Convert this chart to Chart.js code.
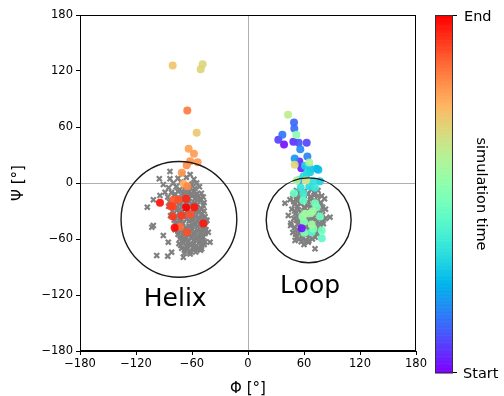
<!DOCTYPE html>
<html><head><meta charset="utf-8">
<script src="https://cdn.jsdelivr.net/npm/chart.js@4/dist/chart.umd.min.js"></script>
<style>html,body{margin:0;padding:0;background:#fff}canvas{display:block}</style>
</head><body>
<canvas id="c" width="504" height="396"></canvas>
<script>
// ---------- data ----------
const xTicks = [-180, -120, -60, 0, 60, 120, 180];
const yTicks = [-180, -120, -60, 0, 60, 120, 180];
const xLabel = 'Φ [°]';
const yLabel = 'Ψ [°]';

// gray crosses (reference conformations)
const grayPhi = [
 // helix outliers
 -97.8,-86,-69.3,-107.9,-101.4,-83.6,-83.6,-95,-90.7,-55,-51.4,-101.4,-103,-40.7,-42.5,-90.7,-85.4,-81.8,-62.1,-49.6,-88.9,-94.3,
 // helix core
 -70,-62, -75,-66,-58, -80,-72,-60,-55, -85,-77,-68,-62,-52, -82,-75,-70,-64,-58,-50,
 -86,-79,-72,-66,-60,-54,-48, -84,-77,-69,-63,-57,-51, -85,-76,-70,-62,-55,-48,
 -81,-76,-71,-65,-59,-53,-47, -83,-76,-68,-62,-56,-50, -79,-73,-66,-60,-54,-48,-44,
 -77,-70,-63,-57,-51,-46, -78,-72,-66,-60,-54,-49,-45, -75,-69,-63,-57,-51,-46,
 -73,-67,-61,-55,-49, -74,-69,-63,-58,-52,-47, -71,-65,-59,-54, -68,-62,-56,
 -73,-65,-57, -78,-67,-61,-55, -75,-69,-63,-57,-51, -80,-73,-66,-60,-54,-47,
 -79,-73,-66,-58,-50, -74,-68,-62,-56,-49, -79,-72,-65,-59,-52,-46, -76,-70,-63,-57,-51,-45,
 -74,-67,-60,-54,-48, -75,-69,-63,-57,-51,-46, -72,-66,-60,-54,-48, -70,-64,-58,-52,-46,
 -72,-66,-61,-55,-50, -68,-62,-57,-51,
 // loop
 39.6,43.2,87.9,45.7,50.4,71.8,64.6,80.7,
 52,60,68,75, 48,56,64,71,79, 45,53,60,67,74,82, 50,57,64,70,77,
 47,54,61,68,75,83, 51,58,65,72,80, 49,56,62,69,76,83, 46,53,60,66,73,80,
 50,57,63,70,77, 48,55,62,68,74, 52,59,66,72, 57,65,
 56,64,71, 52,60,67,75, 49,56,64,71,78, 53,60,67,73,80, 50,57,64,71,78,
 54,61,68,75, 52,59,66,72,79, 56,63,70,77, 53,60,67,74, 51,58,65,71, 55,62,69, 60
];
const grayPsi = [
 -77.7,-78.4,-79.5,-25.9,-18,12.3,4.5,4.5,-1.6,-11.6,-17,-45.5,-47.3,-63.4,-52.7,-56.3,-63.4,-74.1,-74.1,-70.5,-9.9,-13.4,
 10,9, 5,6,4, 0,1,-1,0, -5,-4,-6,-5,-4, -10,-9,-11,-10,-9,-11,
 -15,-14,-16,-15,-14,-16,-15, -20,-21,-19,-20,-21,-19, -25,-26,-24,-25,-26,-24,
 -30,-29,-31,-30,-29,-31,-30, -35,-36,-34,-35,-36,-34, -40,-41,-39,-40,-41,-39,-40,
 -45,-44,-46,-45,-44,-46, -50,-51,-49,-50,-51,-49,-50, -55,-56,-54,-55,-56,-54,
 -60,-61,-59,-60,-61, -65,-64,-66,-65,-64,-66, -70,-71,-69,-70, -75,-76,-74,
 -7,-8,-6, -12,-13,-11,-12, -17,-18,-16,-17,-18, -22,-23,-21,-22,-23,-21,
 -27,-28,-26,-27,-28, -32,-33,-31,-32,-33, -37,-38,-36,-37,-38,-36, -42,-43,-41,-42,-43,-41,
 -47,-48,-46,-47,-48, -52,-53,-51,-52,-53,-51, -57,-58,-56,-57,-58, -62,-63,-61,-62,-63,
 -67,-68,-66,-67,-68, -72,-73,-71,-72,
 -21.6,-34.8,-36.6,-45.5,-61.6,-70.5,-63.4,-43.7,
 -8,-9,-7,-8, -13,-14,-12,-13,-14, -18,-19,-17,-18,-19,-17, -23,-22,-24,-23,-22,
 -28,-29,-27,-28,-29,-28, -33,-34,-32,-33,-34, -38,-39,-37,-38,-39,-38, -43,-44,-42,-43,-44,-42,
 -48,-49,-47,-48,-49, -53,-54,-52,-53,-54, -58,-59,-57,-58, -63,-62,
 -10,-11,-10, -15,-16,-15,-14, -20,-21,-20,-19,-21, -25,-26,-25,-24,-26, -30,-31,-30,-29,-31,
 -35,-36,-35,-34, -40,-41,-40,-39,-41, -45,-46,-45,-44, -50,-51,-50,-49, -55,-56,-55,-54, -60,-61,-60, -66
];

// trajectory frames coloured by simulation time (0 = start, 1 = end)
const trajPhi = [
 38.6,57.5,57.1,55,48.6,32.5,62.9,54.3,49.3,49.6,36.8,63.6,56,50,53.9,73.6,75.4,66.4,61,66.4,77,62.9,59.3,65.7,70,56.5,71.8,59.3,
 68.2,79,49.3,59.3,77.1,79,73.6,71.8,60.3,70,60,51.8,58.2,67.2,68.2,61.1,69.3,
 65.7,52.2,42.9,62,50,-48.6,-50.7,-55,-80.7,-69,-63.6,-57.9,-62,-54,-71,-65.7,-65,-65,-72.9,
 -80,-61.8,-74.7,-65.4,-80.7,-82.8,-80.7,-71,-66.4,-57.5,-47.9,-94.3,-78.6,-66.4
];
const trajPsi = [
 41.3,-48.5,15.9,23,44.1,46.3,43,43,64.8,58.4,51.6,28.4,36.2,26.3,2.7,15.2,14.1,15.5,18.4,11.6,2,9.9,7,-3.7,2,-5,-5,-11.6,
 -52.7,-59.1,-10.9,-18.8,-35.9,-50.9,-25.9,-21.6,-53.4,-49.1,-41.5,51.6,-35.9,-32.3,-44.5,-33,-30.2,
 22,2.7,73.1,2.7,19.5,127.3,122,53.8,125.9,-0.9,36.6,31.3,23.4,22.3,10.9,19,-3.4,77.7,-47,
 -18,-33.8,-18,-52.7,-25.2,-24.8,-35.9,-35.2,-17,-25.9,-43.4,-21.2,-48,-26.3
];
const trajTime = [
 0.02,0.03,0.04,0.05,0.06,0.08,0.09,0.10,0.13,0.14,0.15,0.17,0.18,0.20,0.22,0.25,0.27,0.28,0.30,0.30,0.31,0.32,0.33,0.33,0.34,0.35,0.36,0.38,
 0.42,0.43,0.45,0.45,0.46,0.47,0.47,0.48,0.49,0.50,0.50,0.52,0.53,0.55,0.56,0.57,0.56,
 0.60,0.60,0.62,0.66,0.68,0.68,0.69,0.71,0.72,0.76,0.78,0.79,0.80,0.80,0.80,0.81,0.82,0.84,0.86,
 0.88,0.90,0.90,0.90,0.91,0.92,0.93,0.93,0.95,0.97,0.97,0.98,0.99,1.00
];

// annotated regions
const regionNames = ['Helix', 'Loop'];
const regionPhi = [-74, 65];
const regionPsi = [-39, -40];
const regionRadius = [62, 45.5];
const regionLabelPhi = [-78, 66.5];
const regionLabelPsi = [-132, -118];

const colorbarTitle = 'simulation time';
const colorbarTickLabels = ['Start', 'End'];

// ---------- helpers ----------
function rainbow(t, a) {
  const r = Math.min(1, Math.abs(2 * t - 0.5));
  const g = Math.sin(Math.PI * t);
  const b = Math.cos(Math.PI * t / 2);
  return `rgba(${Math.round(r*255)},${Math.round(Math.max(0,g)*255)},${Math.round(Math.max(0,b)*255)},${a})`;
}
const fmt = v => (v < 0 ? '\u2212' + Math.abs(v) : String(v));
const FONT = 'DejaVu Sans';

const grayPts = grayPhi.map((x, i) => ({ x, y: grayPsi[i] }));
// draw in time order, but keep the early purple frame inside the loop on top (as in the reference)
const order = trajTime.map((t, i) => i).sort((a, b) => trajTime[a] - trajTime[b]);
const purpleIdx = order.indexOf(1);
order.push(order.splice(purpleIdx, 1)[0]);
const trajPts = order.map(i => ({ x: trajPhi[i], y: trajPsi[i] }));
const trajCols = order.map(i => rainbow(trajTime[i], 0.92));

const overlay = {
  id: 'overlay',
  afterDatasetsDraw(chart) {
    const { ctx, chartArea: ca, scales: { x, y } } = chart;
    ctx.save();
    // region circles
    ctx.strokeStyle = '#1a1a1a';
    ctx.lineWidth = 1.4;
    regionNames.forEach((n, i) => {
      const cx = x.getPixelForValue(regionPhi[i]);
      const cy = y.getPixelForValue(regionPsi[i]);
      const r = Math.abs(x.getPixelForValue(regionPhi[i] + regionRadius[i]) - cx);
      ctx.beginPath(); ctx.arc(cx, cy, r, 0, Math.PI * 2); ctx.stroke();
    });
    // region labels
    ctx.fillStyle = '#000';
    ctx.font = `25px "${FONT}"`;
    ctx.textAlign = 'center';
    ctx.textBaseline = 'alphabetic';
    regionNames.forEach((n, i) => {
      ctx.fillText(n, x.getPixelForValue(regionLabelPhi[i]), y.getPixelForValue(regionLabelPsi[i]));
    });
    // frame
    ctx.strokeStyle = '#000';
    ctx.lineWidth = 1;
    ctx.strokeRect(Math.round(ca.left) + 0.5, Math.round(ca.top) + 0.5, Math.round(ca.right - ca.left) - 1, Math.round(ca.bottom - ca.top) - 1);

    // colorbar
    const bx = 435, bw = 18, by0 = ca.top, by1 = ca.bottom + 22;
    const steps = 256;
    for (let s = 0; s < steps; s++) {
      const t = s / (steps - 1);
      const yy0 = by1 - (by1 - by0) * (s + 1) / steps;
      ctx.fillStyle = rainbow(t, 1);
      ctx.fillRect(bx, yy0, bw, (by1 - by0) / steps + 0.6);
    }
    ctx.strokeStyle = '#333';
    ctx.lineWidth = 1;
    ctx.strokeRect(bx + 0.5, by0 + 0.5, bw - 1, by1 - by0 - 1);
    // colorbar ticks
    ctx.strokeStyle = '#000';
    ctx.beginPath();
    ctx.moveTo(bx + bw, by0 + 0.5); ctx.lineTo(bx + bw + 4, by0 + 0.5);
    ctx.moveTo(bx + bw, by1 - 0.5); ctx.lineTo(bx + bw + 4, by1 - 0.5);
    ctx.stroke();
    ctx.fillStyle = '#000';
    ctx.font = `14.5px "${FONT}"`;
    ctx.textAlign = 'left';
    ctx.textBaseline = 'middle';
    ctx.fillText(colorbarTickLabels[1], bx + bw + 11, by0 + 2);
    ctx.fillText(colorbarTickLabels[0], bx + bw + 10, by1 + 1);
    // colorbar title
    ctx.save();
    ctx.translate(481, (by0 + by1) / 2);
    ctx.rotate(Math.PI / 2);
    ctx.textAlign = 'center';
    ctx.textBaseline = 'middle';
    ctx.fillText(colorbarTitle, 0, 0);
    ctx.restore();
    ctx.restore();
  }
};

const gridCfg = {
  drawOnChartArea: true,
  color: c => (c.tick && c.tick.value === 0 ? '#b0b0b0' : 'rgba(0,0,0,0)'),
  lineWidth: 1,
  tickColor: '#000',
  tickLength: 4,
  tickWidth: 1
};

new Chart(document.getElementById('c'), {
  type: 'scatter',
  data: {
    datasets: [
      {
        label: 'trajectory',
        data: trajPts,
        pointBackgroundColor: trajCols,
        pointBorderWidth: 0,
        pointRadius: 4,
        pointStyle: 'circle'
      },
      {
        label: 'reference',
        data: grayPts,
        pointStyle: 'crossRot',
        pointRadius: 3.5,
        pointBorderColor: '#808080',
        pointBackgroundColor: '#808080',
        pointBorderWidth: 2.2
      }
    ]
  },
  options: {
    responsive: false,
    animation: false,
    devicePixelRatio: 1,
    layout: { padding: { top: 15, right: 88, left: 0, bottom: 0 } },
    plugins: { legend: { display: false }, tooltip: { enabled: false } },
    scales: {
      x: {
        type: 'linear', min: -180, max: 180,
        afterBuildTicks: s => { s.ticks = xTicks.map(v => ({ value: v })); },
        afterFit: s => { s.height = 45; },
        ticks: { callback: fmt, color: '#000', font: { family: FONT, size: 11.5 }, padding: 2, maxRotation: 0, autoSkip: false },
        grid: gridCfg,
        border: { display: true, color: '#000', width: 1 },
        title: { display: true, text: xLabel, color: '#000', font: { family: FONT, size: 15 }, padding: { top: 0, bottom: -2 } }
      },
      y: {
        type: 'linear', min: -180, max: 180,
        afterBuildTicks: s => { s.ticks = yTicks.map(v => ({ value: v })); },
        afterFit: s => { s.width = 80; },
        ticks: { callback: fmt, color: '#000', font: { family: FONT, size: 11.5 }, padding: 3, autoSkip: false },
        grid: gridCfg,
        border: { display: true, color: '#000', width: 1 },
        title: { display: true, text: yLabel, color: '#000', font: { family: FONT, size: 15 }, padding: { top: 10, bottom: 0 } }
      }
    }
  },
  plugins: [overlay]
});
</script>
</body></html>
